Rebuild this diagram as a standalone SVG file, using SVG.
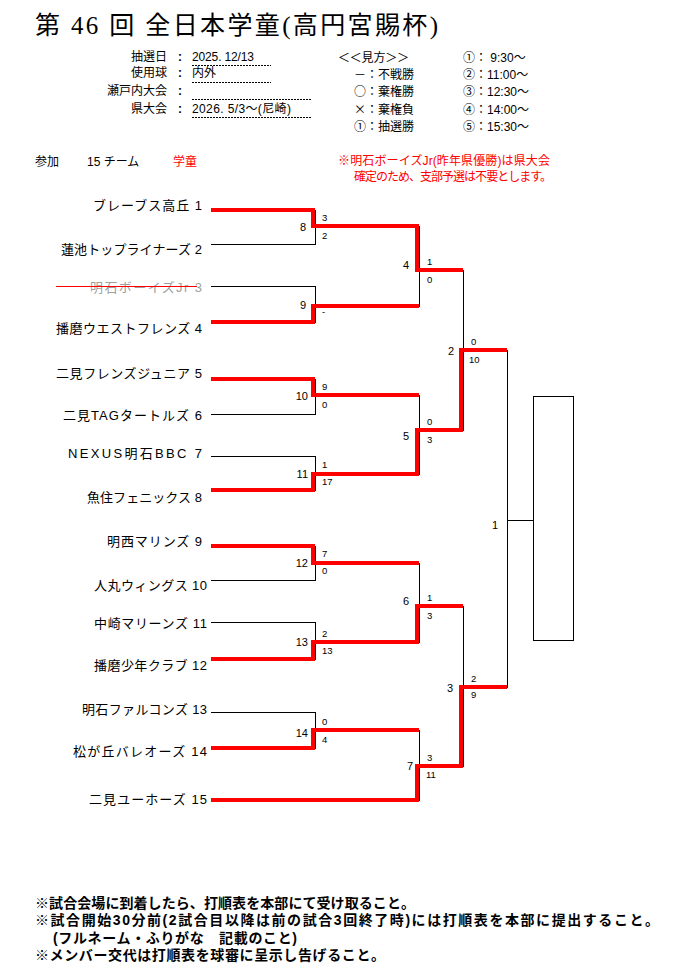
<svg xmlns="http://www.w3.org/2000/svg" width="694" height="973" viewBox="0 0 694 973">
<style>
text{font-family:'Liberation Sans','Noto Sans CJK JP',sans-serif;fill:#000}
.title{font-size:25px;font-family:'Liberation Serif','Noto Sans CJK JP',serif}
.hd{font-size:12px}
.cj{font-family:'Noto Sans CJK JP','Liberation Sans',sans-serif}
.red{fill:#f00}
.team{font-size:13px}
.gray{fill:#a0a0a0}
.ml{font-size:11px;text-anchor:end}
.sc{font-size:9.5px}
.note{font-size:14px;font-weight:bold}
.bk{stroke:#000;stroke-width:1;fill:none;shape-rendering:crispEdges}
.rd{stroke:#f00;stroke-width:4;fill:none;stroke-linejoin:miter;stroke-linecap:butt;shape-rendering:crispEdges}
.dot{stroke:#000;stroke-width:1;stroke-dasharray:2 1;fill:none;shape-rendering:crispEdges}
</style>
<rect width="694" height="973" fill="#fff"/>

<g id="header">
<text class="title" x="35" y="34" textLength="403">第 46 回 全日本学童(高円宮賜杯)</text>
<text class="hd" x="167" y="61" text-anchor="end">抽選日</text>
<text class="hd" x="167" y="77" text-anchor="end">使用球</text>
<text class="hd" x="167" y="95" text-anchor="end">瀬戸内大会</text>
<text class="hd" x="167" y="113" text-anchor="end">県大会</text>
<text class="hd" x="180" y="61" text-anchor="middle" font-weight="bold">:</text>
<text class="hd" x="180" y="77" text-anchor="middle" font-weight="bold">:</text>
<text class="hd" x="180" y="95" text-anchor="middle" font-weight="bold">:</text>
<text class="hd" x="180" y="113" text-anchor="middle" font-weight="bold">:</text>
<text class="hd" x="192" y="61" textLength="62">2025. 12/13</text>
<text class="hd" x="192" y="77">内外</text>
<text class="hd" x="192" y="113" textLength="99">2026. 5/3～(尼崎)</text>
<path class="dot" d="M192,65.5H271M192,82.5H271M192,99.5H312M192,117.5H312"/>
</g>

<g id="legend">
<text class="hd cj" x="338" y="62" textLength="71">＜＜見方＞＞</text>
<text class="hd cj" x="354" y="79">－：不戦勝</text>
<text class="hd cj" x="354" y="96">○：棄権勝</text>
<text class="hd cj" x="354" y="114">×：棄権負</text>
<text class="hd cj" x="354" y="131">①：抽選勝</text>
<text class="hd" x="463" y="62">①： 9:30～</text>
<text class="hd" x="463" y="79">②：11:00～</text>
<text class="hd" x="463" y="96">③：12:30～</text>
<text class="hd" x="463" y="114">④：14:00～</text>
<text class="hd" x="463" y="131">⑤：15:30～</text>
<text class="hd red" x="338" y="165" textLength="212">※明石ボーイズJr(昨年県優勝)は県大会</text>
<text class="hd red" x="354" y="181" textLength="198">確定のため、支部予選は不要とします。</text>
</g>

<g id="entry">
<text class="hd" x="35" y="166">参加</text>
<text class="hd" x="87" y="166">15 チーム</text>
<text class="hd red" x="173" y="166">学童</text>
</g>

<g id="connectors">
<path class="bk" d="M211,210H315V244H211M211,286H315V322H211M211,379H315V414H211M211,456H315V490H211M211,546H315V580H211M211,622H315V659H211M211,712H315V748H211"/>
<path class="bk" d="M315,226H419V306H315M315,395H419V474H315M315,563H419V642H315M315,730H419V800H211"/>
<path class="bk" d="M419,270H463V430H419M419,606H463V766H419"/>
<path class="bk" d="M463,350H507V687H463M507,520H533"/>
<rect class="bk" x="533" y="396" width="40" height="244"/>
<path class="rd" d="M211,210H313V226H417V270H463"/>
<path class="rd" d="M211,322H313V306H419"/>
<path class="rd" d="M211,379H313V395H419"/>
<path class="rd" d="M211,490H313V474H417V430H461V350H507"/>
<path class="rd" d="M211,546H313V563H419"/>
<path class="rd" d="M211,659H313V642H417V606H463"/>
<path class="rd" d="M211,748H313V730H419"/>
<path class="rd" d="M211,800H417V766H461V687H507"/>
</g>

<g id="team1"><text class="team" x="93" y="210" textLength="109">ブレーブス高丘 1</text></g>
<g id="team2"><text class="team" x="61" y="254" textLength="141">蓮池トップライナーズ 2</text></g>
<g id="team3"><text class="team gray" x="90" y="292" textLength="112">明石ボーイズJr 3</text><line x1="56" y1="286.5" x2="197" y2="286.5" stroke="#f00" stroke-width="1"/></g>
<g id="team4"><text class="team" x="56" y="333" textLength="146">播磨ウエストフレンズ 4</text></g>
<g id="team5"><text class="team" x="56" y="378" textLength="146">二見フレンズジュニア 5</text></g>
<g id="team6"><text class="team" x="63" y="420" textLength="139">二見TAGタートルズ 6</text></g>
<g id="team7"><text class="team" x="68" y="458" textLength="134">NEXUS明石BBC 7</text></g>
<g id="team8"><text class="team" x="87" y="502" textLength="115">魚住フェニックス 8</text></g>
<g id="team9"><text class="team" x="107" y="546" textLength="95">明西マリンズ 9</text></g>
<g id="team10"><text class="team" x="94" y="590" textLength="113">人丸ウィングス 10</text></g>
<g id="team11"><text class="team" x="94" y="628" textLength="113">中崎マリーンズ 11</text></g>
<g id="team12"><text class="team" x="94" y="670" textLength="113">播磨少年クラブ 12</text></g>
<g id="team13"><text class="team" x="82" y="714" textLength="125">明石ファルコンズ 13</text></g>
<g id="team14"><text class="team" x="73" y="756" textLength="134">松が丘バレオーズ 14</text></g>
<g id="team15"><text class="team" x="89" y="804" textLength="118">二見ユーホーズ 15</text></g>

<g id="m8"><text class="ml" x="306" y="231">8</text><text class="sc" x="322" y="221">3</text><text class="sc" x="322" y="239">2</text></g>
<g id="m9"><text class="ml" x="306" y="309">9</text><text class="sc" x="322" y="315">-</text></g>
<g id="m10"><text class="ml" x="308" y="400">10</text><text class="sc" x="322" y="390">9</text><text class="sc" x="322" y="408">0</text></g>
<g id="m11"><text class="ml" x="308" y="478">11</text><text class="sc" x="322" y="468">1</text><text class="sc" x="322" y="485">17</text></g>
<g id="m12"><text class="ml" x="308" y="567">12</text><text class="sc" x="322" y="557">7</text><text class="sc" x="322" y="574">0</text></g>
<g id="m13"><text class="ml" x="308" y="646">13</text><text class="sc" x="322" y="637">2</text><text class="sc" x="322" y="654">13</text></g>
<g id="m14"><text class="ml" x="308" y="737">14</text><text class="sc" x="322" y="725">0</text><text class="sc" x="322" y="743">4</text></g>
<g id="m4"><text class="ml" x="409" y="269">4</text><text class="sc" x="427" y="265">1</text><text class="sc" x="427" y="283">0</text></g>
<g id="m5"><text class="ml" x="409" y="440">5</text><text class="sc" x="427" y="425">0</text><text class="sc" x="427" y="443">3</text></g>
<g id="m6"><text class="ml" x="409" y="605">6</text><text class="sc" x="427" y="601">1</text><text class="sc" x="427" y="619">3</text></g>
<g id="m7"><text class="ml" x="413" y="770">7</text><text class="sc" x="427" y="761">3</text><text class="sc" x="426" y="778">11</text></g>
<g id="m2"><text class="ml" x="454" y="355">2</text><text class="sc" x="471" y="345">0</text><text class="sc" x="469" y="363">10</text></g>
<g id="m3"><text class="ml" x="453" y="692">3</text><text class="sc" x="471" y="682">2</text><text class="sc" x="471" y="698">9</text></g>
<g id="m1"><text class="ml" x="498" y="529">1</text></g>

<g id="notes">
<text class="note" x="35" y="908" textLength="380">※試合会場に到着したら、打順表を本部にて受け取ること。</text>
<text class="note" x="35" y="925" textLength="624">※試合開始30分前(2試合目以降は前の試合3回終了時)には打順表を本部に提出すること。</text>
<text class="note" x="53" y="943" textLength="244">(フルネーム・ふりがな　記載のこと)</text>
<text class="note" x="35" y="960" textLength="350">※メンバー交代は打順表を球審に呈示し告げること。</text>
</g>
</svg>
